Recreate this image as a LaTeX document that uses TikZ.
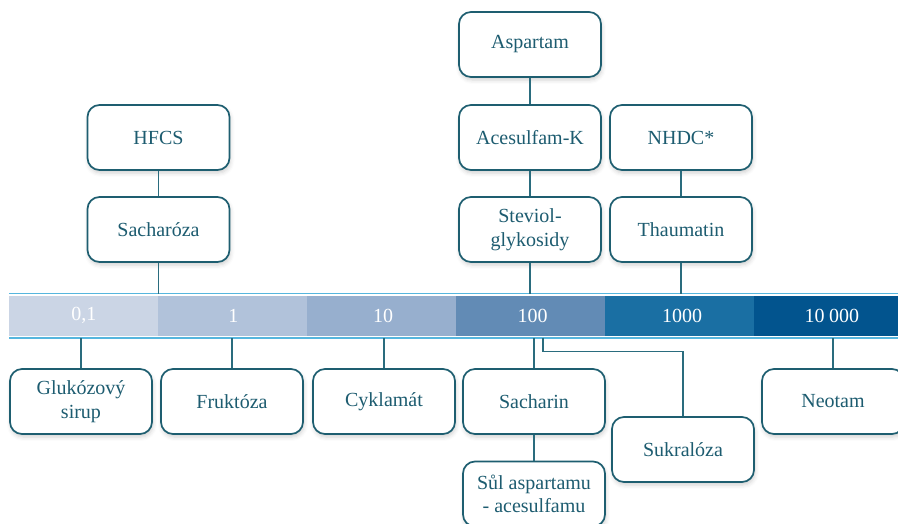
\documentclass[tikz,border=0pt]{standalone}
\usepackage{fontspec}
\setmainfont{Liberation Serif}
\usetikzlibrary{shadows.blur}
\definecolor{boxline}{HTML}{1E5E70}
\definecolor{boxtext}{HTML}{1D5C70}
\definecolor{conn}{HTML}{2A6C7E}
\definecolor{cyanline}{HTML}{56B6DE}
\definecolor{sA}{HTML}{CBD5E5}
\definecolor{sB}{HTML}{B1C2DA}
\definecolor{sC}{HTML}{97AFCE}
\definecolor{sD}{HTML}{628BB5}
\definecolor{sE}{HTML}{1A6FA3}
\definecolor{sF}{HTML}{02548E}
\tikzset{
  sbox/.style={draw=boxline, line width=1.7pt, rounded corners=12pt, fill=white,
    minimum width=142pt, minimum height=65pt, inner sep=0pt, align=center,
    text=boxtext, font=\fontsize{20}{23.5}\selectfont,
    blur shadow={shadow xshift=1pt, shadow yshift=-3pt, shadow blur radius=4pt, shadow opacity=18}},
  link/.style={draw=conn, line width=1.7pt},
  seg/.style={minimum width=149.2pt, minimum height=40pt, inner sep=0pt, text=white,
    font=\fontsize{20}{22}\selectfont},
}
\begin{document}
\begin{tikzpicture}[x=1pt,y=-1pt]
\useasboundingbox (0,0) rectangle (898,523);
\clip (0,0) rectangle (898,523);
% scale bar backgrounds
\fill[sA] (9,295.7) rectangle (158.5,335.7);
\fill[sB] (158,295.7) rectangle (307.5,335.7);
\fill[sC] (307,295.7) rectangle (456,335.7);
\fill[sD] (455.5,295.7) rectangle (605.5,335.7);
\fill[sE] (605,295.7) rectangle (754.5,335.7);
\fill[sF] (754,295.7) rectangle (898,335.7);
% scale labels
\node[seg, anchor=west] (s1) at (9,315.7) {0,1};
\node[seg, anchor=west] (s2) at (s1.east) {1};
\node[seg, anchor=west] (s3) at (s2.east) {10};
\node[seg, anchor=west] (s4) at (s3.east) {100};
\node[seg, anchor=west] (s5) at (s4.east) {1000};
\node[seg, anchor=west] (s6) at (s5.east) {10\hspace{0.22em}000};
\coordinate (tl) at (9,293.5);
\coordinate (tr) at (898,293.5);
\coordinate (bl) at (9,337.6);
\coordinate (br) at (898,337.6);
\draw[cyanline, line width=1.8pt] (tl) -- (tr);
\draw[cyanline, line width=1.8pt] (bl) -- (br);
% top boxes
\node[sbox] (hfcs) at (158.5,137.5) {HFCS};
\node[sbox] (sach) at (158.5,229.5) {Sacharóza};
\node[sbox] (asp) at (530,44.5) {Aspartam};
\node[sbox] (ace) at (530,137.5) {Acesulfam-K};
\node[sbox] (ste) at (530,229.5) {Steviol-\\glykosidy};
\node[sbox] (nhdc) at (681,137.5) {NHDC*};
\node[sbox] (thau) at (681,229.5) {Thaumatin};
% bottom boxes
\node[sbox] (glu) at (81,401.5) {Glukózový\\sirup};
\node[sbox] (fru) at (232,401.5) {Fruktóza};
\node[sbox] (cyk) at (384,401.5) {Cyklamát};
\node[sbox] (sac) at (534,401.5) {Sacharin};
\node[sbox] (sul) at (534,494) {Sůl aspartamu\\- acesulfamu};
\node[sbox] (suk) at (683,449.5) {Sukralóza};
\node[sbox] (neo) at (833,401.5) {Neotam};
% connectors
\draw[link] (hfcs) -- (sach);
\draw[link] (sach.south) -- (sach.south |- tl);
\draw[link] (asp) -- (ace);
\draw[link] (ace) -- (ste);
\draw[link] (ste.south) -- (ste.south |- tl);
\draw[link] (nhdc) -- (thau);
\draw[link] (thau.south) -- (thau.south |- tl);
\draw[link] (glu.north) -- (glu.north |- bl);
\draw[link] (fru.north) -- (fru.north |- bl);
\draw[link] (cyk.north) -- (cyk.north |- bl);
\draw[link] (sac.north) -- (sac.north |- bl);
\draw[link] (sac) -- (sul);
\draw[link] (neo.north) -- (neo.north |- bl);
\coordinate (sukstart) at (543,337.6);
\draw[link] (sukstart) -- (543,351.5) -| (suk.north);
\end{tikzpicture}
\end{document}
